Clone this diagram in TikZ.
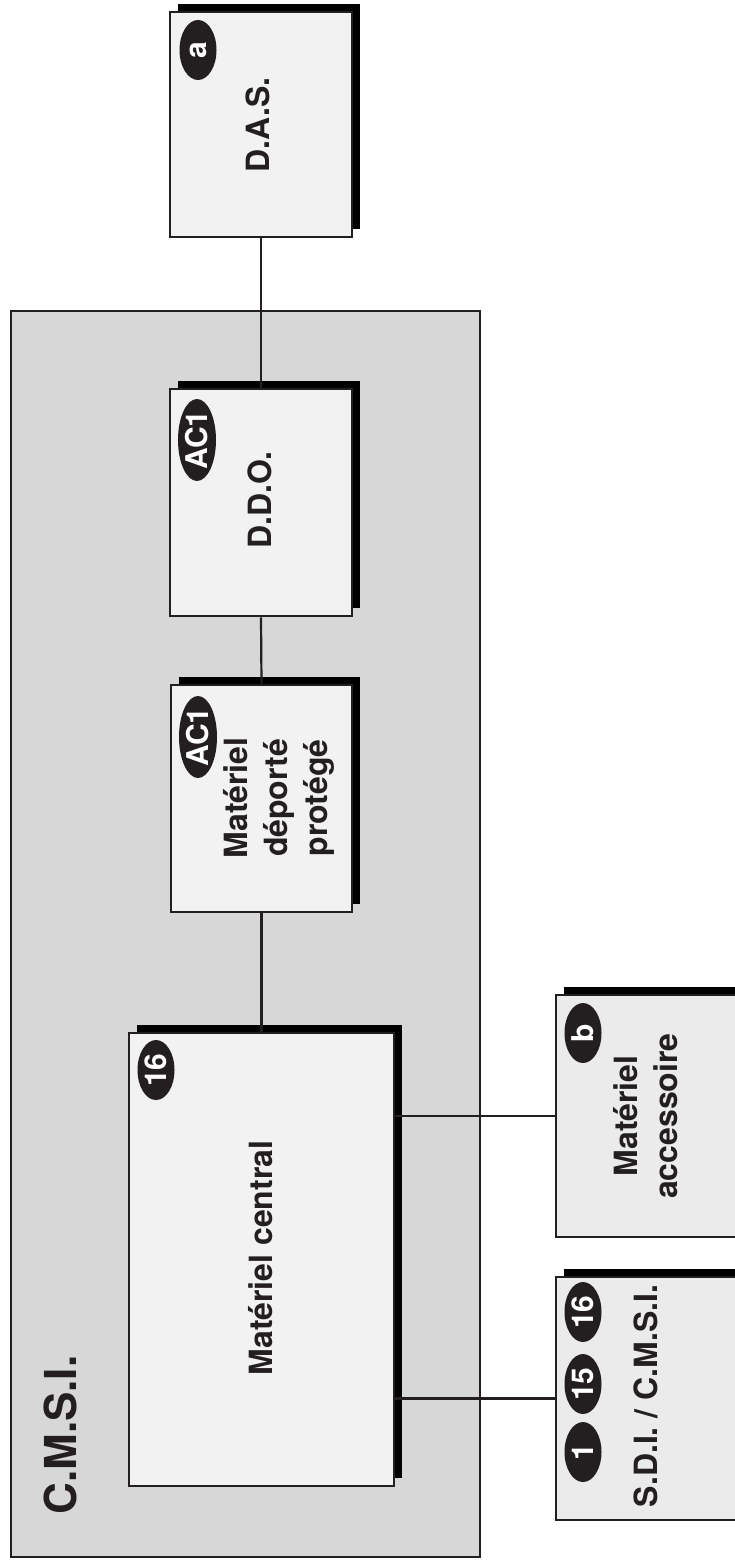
\documentclass[tikz,border=0pt]{standalone}
\usepackage{fontspec}
\setmainfont{TeX Gyre Heros}
\usepackage{xcolor}
\usepackage{tikz}
\usetikzlibrary{shapes.geometric}
\usetikzlibrary{shadows}
\definecolor{ink}{HTML}{231F20}
\definecolor{zone}{HTML}{D7D7D7}
\definecolor{inner}{HTML}{F2F2F2}
\definecolor{outer}{HTML}{EBEBEB}

\begin{document}
\begin{tikzpicture}[x=1pt,y=-1pt,
  box/.style={rectangle,draw=ink,line width=2.6pt,fill=inner,inner sep=0pt,
    general shadow={fill=black,shadow xshift=8pt,shadow yshift=8pt}},
  outbox/.style={box,fill=outer},
  badge/.style={ellipse,fill=ink,text=white,inner sep=-6pt,rotate=90,
    minimum width=60pt,minimum height=37pt,font=\fontsize{30}{30}\selectfont\bfseries},
  wide/.style={minimum width=82pt,minimum height=38pt},
  label/.style={rotate=90,text=ink,align=center,inner sep=0pt,
    font=\fontsize{32}{40}\selectfont\bfseries},
  link/.style={line width=2.2pt,draw=ink}]
\useasboundingbox (0,0) rectangle (735,1560);
\node[draw=ink,line width=2.6pt,fill=zone,inner sep=0pt,
  minimum width=469pt,minimum height=1246pt] (cmsi) at (245.5,934) {};
\node[label,font=\fontsize{44}{44}\selectfont\bfseries] (cmsitxt) at (60,1435) {C.M.S.I.};

\node[box,minimum width=182pt,minimum height=225pt] (das) at (261,124.5) {};
\node[box,minimum width=182pt,minimum height=227pt] (ddo) at (261,502.5) {};
\node[box,minimum width=181pt,minimum height=227pt] (dep) at (261.5,798.5) {};
\node[box,minimum width=265pt,minimum height=453pt] (cen) at (261.5,1259.5) {};
\node[outbox,minimum width=189pt,minimum height=242pt] (acc) at (650.5,1116) {};
\node[outbox,minimum width=189pt,minimum height=243pt] (sdi) at (650.5,1398.5) {};

\draw[link] (das.south) -- (ddo.north);
\draw[link] (ddo.south) -- (dep.north);
\draw[link] (dep.south) -- (cen.north);
\draw[link] (cen.east |- acc.west) -- (acc.west);
\draw[link] (cen.east |- sdi.west) -- (sdi.west);

\node[label] (dastxt) at (258,125) {D.A.S.};
\node[label] (ddotxt) at (260,500) {D.D.O.};
\node[label] (deptxt) at (279,798) {Matériel\\déporté\\protégé};
\node[label] (centxt) at (261,1258) {Matériel central};
\node[label] (acctxt) at (646,1116) {Matériel\\accessoire};
\node[label] (sditxt) at (646,1396) {S.D.I. / C.M.S.I.};

\node[badge] (bda) at (198,50) {a};
\node[badge,wide] (bddo) at (197,440) {AC1};
\node[badge,wide] (bdep) at (198,737) {AC1};
\node[badge] (bcen) at (156,1070) {16};
\node[badge] (bacc) at (583,1033) {b};
\node[badge] (bsdi16) at (583,1312) {16};
\node[badge] (bsdi15) at (583,1384) {15};
\node[badge] (bsdi1) at (583,1452) {1};
\end{tikzpicture}
\end{document}
